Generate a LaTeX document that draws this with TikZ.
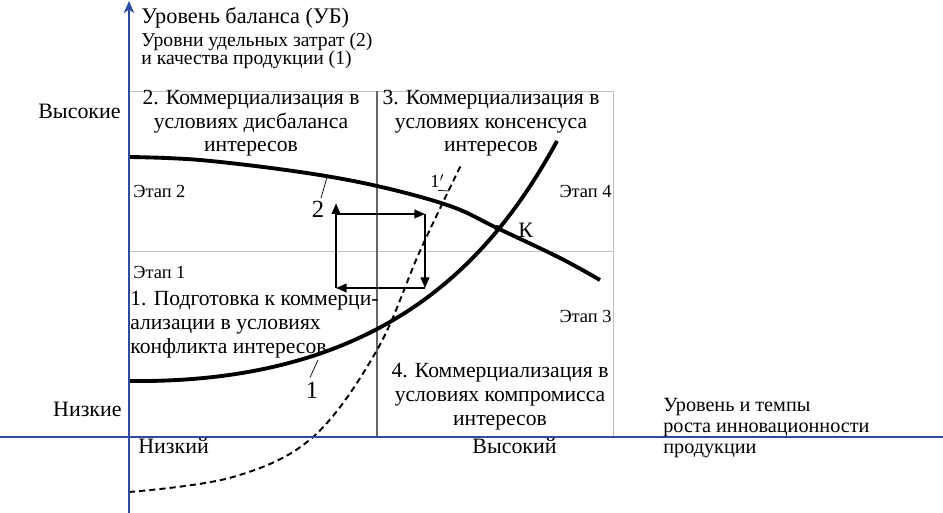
\documentclass[tikz,border=0pt]{standalone}
\usepackage{fontspec}
\setmainfont{Liberation Serif}
\newfontfamily\serfont{Liberation Serif}
\usetikzlibrary{arrows.meta}

\definecolor{axisblue}{RGB}{45,75,160}

\begin{document}
\begin{tikzpicture}[
  x=0.02cm, y=-0.02cm, >={Triangle[length=6pt,width=5pt]},
  axis/.style={axisblue, line width=1.1pt},
  gridln/.style={gray!50, line width=0.5pt},
  curve/.style={line width=2.2pt},
  dcurve/.style={line width=1.1pt, dash pattern=on 3.5pt off 2.3pt},
  flow/.style={->, line width=0.8pt},
  lead/.style={line width=0.4pt},
  quad/.style={font=\serfont\fontsize{12.3}{13.4}\selectfont, align=center, anchor=base, inner sep=0pt},
  lbl/.style={font=\serfont\fontsize{10.5}{11.7}\selectfont, inner sep=0pt},
  big/.style={font=\serfont\fontsize{12.5}{14}\selectfont, inner sep=0pt},
]
  \useasboundingbox (0,0) rectangle (943,513);

  % quadrants
  \draw[gridln] (129,91) rectangle (613,437);
  \draw[gridln] (129,251) -- (613,251);
  \draw[gray!80!black, line width=0.6pt] (377,91) -- (377,437);

  % curves
  \draw[curve] plot[smooth, tension=0.6] coordinates
    {(129,157) (200,160) (300,172) (377,186) (450,206) (497,228) (560,258) (600,280)};
  \draw[curve] (129,381) .. controls (380,384) and (490,264) .. (557,141);
  \draw[dcurve] plot[smooth, tension=0.6] coordinates
    {(129,492) (233,477) (313,437) (377,350) (420,251) (462,163)};
  \fill (497,228) circle (3);

  % cycle of arrows
  \coordinate (ca) at (336,288);
  \coordinate (cb) at (336,214);
  \coordinate (cc) at (425,214);
  \coordinate (cd) at (425,288);
  \draw[flow] (ca) -- ([yshift=6]cb);
  \draw[flow] (cb) -- (cc);
  \draw[flow] (cc) -- (cd);
  \draw[flow] (cd) -- (ca);

  % axes
  \draw[axis] (0,437) -- (943,437);
  \draw[axis, -{Stealth[length=7pt,width=6pt]}] (129,513) -- (129,1);

  % axis texts
  \node[big, anchor=base west, font=\serfont\fontsize{12.7}{14}\selectfont] (ub) at (141,24) {Уровень баланса (УБ)};
  \node[lbl, anchor=base west, align=left, font=\serfont\fontsize{11.2}{10.8}\selectfont] (yax) at (141,65)
    {Уровни удельных затрат (2)\\и качества продукции (1)};
  \node[big, anchor=base east] (hi) at (121,119) {Высокие};
  \node[big, anchor=base east] (lo) at (122,416) {Низкие};
  \node[big, anchor=base west] (xlo) at (138,453) {Низкий};
  \node[big, anchor=base west] (xhi) at (472,453) {Высокий};
  \node[lbl, anchor=base west, align=left, font=\serfont\fontsize{11.5}{11.7}\selectfont] (xax) at (663,453)
    {Уровень и темпы\\роста инновационности\\продукции};

  % quadrant texts
  \node[quad] (q2) at (251,152) {2. Коммерциализация в\\условиях дисбаланса\\интересов};
  \node[quad] (q3) at (491,152) {3. Коммерциализация в\\условиях консенсуса\\интересов};
  \node[quad] (q4) at (500,425) {4. Коммерциализация в\\условиях компромисса\\интересов};
  \node[quad, anchor=base west, align=left] (q1) at (130,353)
    {1. Подготовка к коммерци-\\ализации в условиях\\конфликта интересов};

  % stages
  \node[lbl, anchor=base west] (e1) at (133,278) {Этап 1};
  \node[lbl, anchor=base west] (e2) at (133,198) {Этап 2};
  \node[lbl, anchor=base east] (e3) at (612,322) {Этап 3};
  \node[lbl, anchor=base east] (e4) at (612,198) {Этап 4};

  % curve labels
  \node[big, anchor=base west] (k) at (518,237) {К};
  \node[big, anchor=base, font=\serfont\fontsize{14}{16}\selectfont] (l2) at (318,218) {2};
  \node[lbl, anchor=base west] (l1p) at (430,188) {1$'$};
  \node[big, anchor=base, font=\serfont\fontsize{14}{16}\selectfont] (l1) at (312,398) {1};
  \draw[lead] (l2.north) ++(3,-3) -- (327,177);
  \draw[lead] (l1p.south west) ++(8,2) -- (449,191);
  \draw[lead] (l1.north) ++(-2,-4) -- (318,360);
\end{tikzpicture}
\end{document}
